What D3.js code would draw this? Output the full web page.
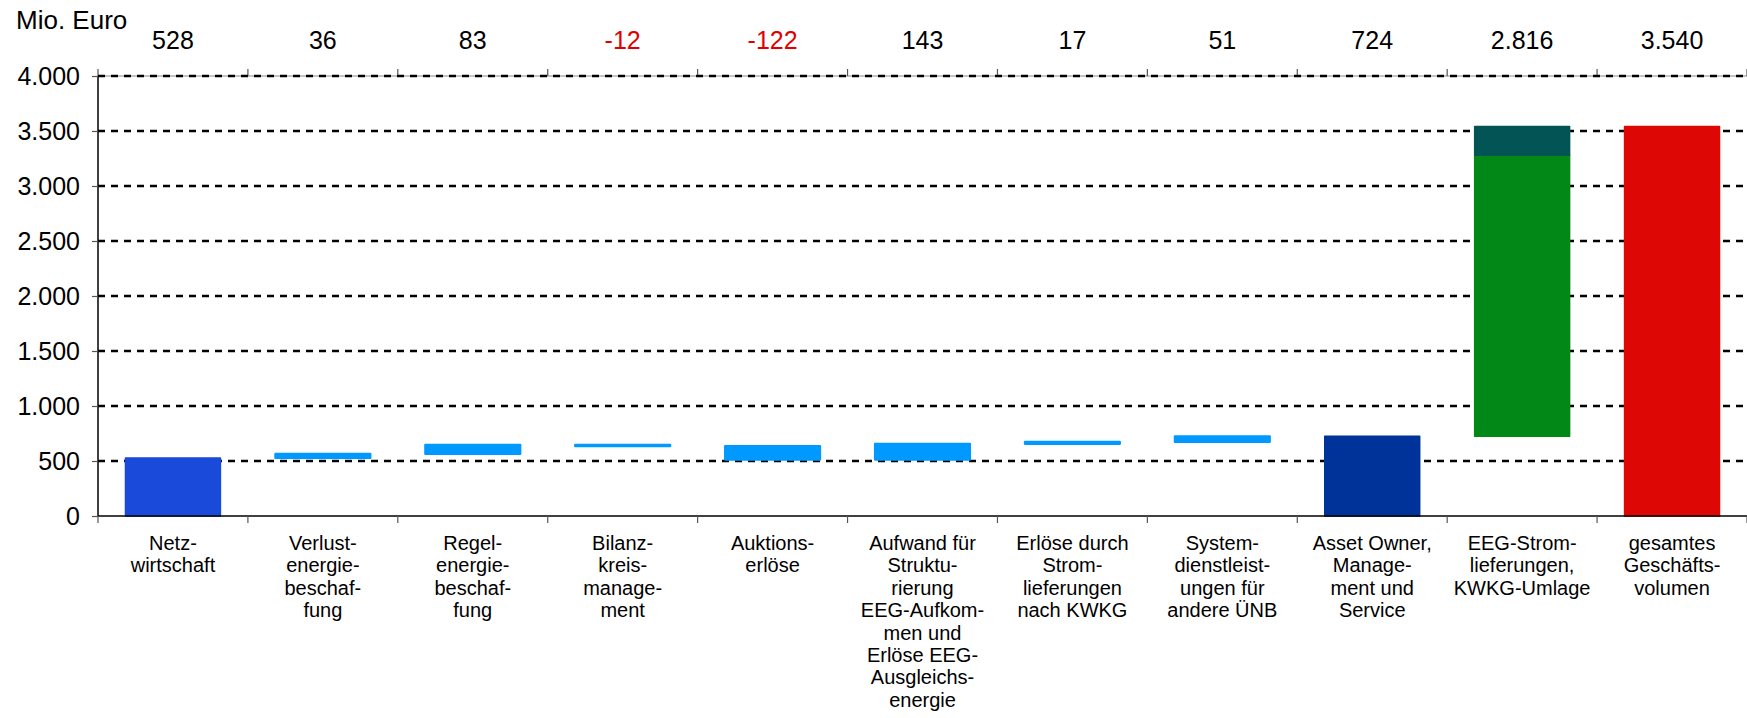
<!DOCTYPE html>
<html>
<head>
<meta charset="utf-8">
<script src="https://cdn.jsdelivr.net/npm/d3@7"></script>
<style>
html,body{margin:0;padding:0;background:#fff;}
svg{display:block;font-family:"Liberation Sans",Arial,sans-serif;}
</style>
</head>
<body>
<svg id="chart" width="1747" height="718"></svg>
<script>
// ---------- data ----------
const categories = [
  "Netzwirtschaft", "Verlustenergiebeschaffung", "Regelenergiebeschaffung",
  "Bilanzkreismanagement", "Auktionserlöse",
  "Aufwand für Strukturierung EEG-Aufkommen und Erlöse EEG-Ausgleichsenergie",
  "Erlöse durch Stromlieferungen nach KWKG", "Systemdienstleistungen für andere ÜNB",
  "Asset Owner, Management und Service", "EEG-Stromlieferungen, KWKG-Umlage",
  "gesamtes Geschäftsvolumen"
];
const categoryLines = [
  ["Netz-", "wirtschaft"],
  ["Verlust-", "energie-", "beschaf-", "fung"],
  ["Regel-", "energie-", "beschaf-", "fung"],
  ["Bilanz-", "kreis-", "manage-", "ment"],
  ["Auktions-", "erlöse"],
  ["Aufwand für", "Struktu-", "rierung", "EEG-Aufkom-", "men und", "Erlöse EEG-", "Ausgleichs-", "energie"],
  ["Erlöse durch", "Strom-", "lieferungen", "nach KWKG"],
  ["System-", "dienstleist-", "ungen für", "andere ÜNB"],
  ["Asset Owner,", "Manage-", "ment und", "Service"],
  ["EEG-Strom-", "lieferungen,", "KWKG-Umlage"],
  ["gesamtes", "Geschäfts-", "volumen"]
];
// value shown above each column
const values = [528, 36, 83, -12, -122, 143, 17, 51, 724, 2816, 3540];
// "total" bars start at zero, "step" bars continue from the running sum
const barKind = ["total", "step", "step", "step", "step", "step", "step", "step", "total", "step", "total"];
// the EEG column is split into two stacked parts
const eegParts = [2556, 260];
const eegPartColors = ["#028817", "#035454"];
const barColors = ["#1a4ad9", "#0099ff", "#0099ff", "#0099ff", "#0099ff", "#0099ff", "#0099ff", "#0099ff", "#003399", null, "#dd0806"];
const yTicks = [0, 500, 1000, 1500, 2000, 2500, 3000, 3500, 4000];

// ---------- layout ----------
const plotLeft = 98, plotRight = 1747, plotTop = 76, plotBottom = 516;

const svg = d3.select("#chart");
const de = d3.formatLocale({decimal: ",", thousands: ".", grouping: [3], currency: ["", " €"], minus: "-"});
const fmt = de.format(",d");

const x = d3.scaleBand().domain(categories).range([plotLeft, plotRight]).paddingInner(0.36).paddingOuter(0.18);
const y = d3.scaleLinear().domain([0, 4000]).range([plotBottom, plotTop]);
const step = x.step();

// build bar segments
const segs = [];
let running = 0;
categories.forEach((c, i) => {
  const v = values[i];
  if (barKind[i] === "total") {
    segs.push({c, y0: 0, y1: v, color: barColors[i], step: false});
    running = v;
  } else if (i === 9) {
    let base = running;
    eegParts.forEach((p, k) => {
      segs.push({c, y0: base, y1: base + p, color: eegPartColors[k], step: false});
      base += p;
    });
    running = base;
  } else {
    segs.push({c, y0: running, y1: running + v, color: barColors[i], step: true});
    running += v;
  }
});

// top secondary axis line (solid gray) with upward ticks
svg.append("line").attr("x1", plotLeft).attr("x2", plotRight).attr("y1", plotTop).attr("y2", plotTop)
  .attr("stroke", "#8a8a8a").attr("stroke-width", 1.2);
const boundaries = d3.range(categories.length + 1).map(i => plotLeft + i * step);
svg.append("g").selectAll("line").data(boundaries).join("line")
  .attr("x1", d => d).attr("x2", d => d).attr("y1", plotTop - 7).attr("y2", plotTop)
  .attr("stroke", "#555").attr("stroke-width", 1.2);

// gridlines
svg.append("g").selectAll("line").data(yTicks.filter(d => d > 0)).join("line")
  .attr("x1", plotLeft).attr("x2", plotRight)
  .attr("y1", d => y(d)).attr("y2", d => y(d))
  .attr("stroke", "#000").attr("stroke-width", 2.4).attr("stroke-dasharray", "7,6");

// bars
svg.append("g").selectAll("rect").data(segs).join("rect")
  .attr("x", d => x(d.c) + 0.5)
  .attr("width", x.bandwidth() - 1)
  .attr("y", d => y(Math.max(d.y0, d.y1)))
  .attr("height", d => Math.max(1, Math.abs(y(d.y0) - y(d.y1))))
  .attr("fill", d => d.color)
  .attr("stroke", d => d.color)
  .attr("stroke-width", d => d.step ? 2.2 : 1.5)
  .attr("stroke-linejoin", "round");

// y axis
const yAxis = d3.axisLeft(y).tickValues(yTicks).tickFormat(fmt).tickSize(6).tickPadding(12);
const gy = svg.append("g").attr("transform", `translate(${plotLeft},0)`).call(yAxis);
gy.select(".domain").attr("stroke", "#000").attr("stroke-width", 1.5).attr("d", `M0,${plotTop}V${plotBottom}`);
gy.selectAll(".tick line").attr("stroke", "#555").attr("stroke-width", 1.2);
gy.selectAll(".tick text").attr("font-size", 25).attr("fill", "#000")
  .attr("font-family", "'Liberation Sans',Arial,sans-serif");

// bottom axis line with downward ticks at category boundaries
svg.append("line").attr("x1", plotLeft).attr("x2", plotRight).attr("y1", plotBottom).attr("y2", plotBottom)
  .attr("stroke", "#000").attr("stroke-width", 1.5);
svg.append("g").selectAll("line").data(boundaries).join("line")
  .attr("x1", d => d).attr("x2", d => d).attr("y1", plotBottom).attr("y2", plotBottom + 7)
  .attr("stroke", "#555").attr("stroke-width", 1.2);

// category labels
const lab = svg.append("g").selectAll("text").data(categories).join("text")
  .attr("text-anchor", "middle").attr("font-size", 20).attr("fill", "#000");
lab.each(function(c, i) {
  const t = d3.select(this);
  categoryLines[i].forEach((ln, k) => {
    t.append("tspan").attr("x", x(c) + x.bandwidth() / 2).attr("y", 550 + k * 22.4).text(ln);
  });
});

// values above the columns
svg.append("g").selectAll("text").data(categories).join("text")
  .attr("x", c => x(c) + x.bandwidth() / 2)
  .attr("y", 49)
  .attr("text-anchor", "middle")
  .attr("font-size", 25)
  .attr("fill", (c, i) => values[i] < 0 ? "#e00000" : "#000")
  .text((c, i) => fmt(values[i]));

// unit label
svg.append("text").attr("x", 16).attr("y", 29).attr("font-size", 26).attr("fill", "#000").text("Mio. Euro");
</script>
</body>
</html>
